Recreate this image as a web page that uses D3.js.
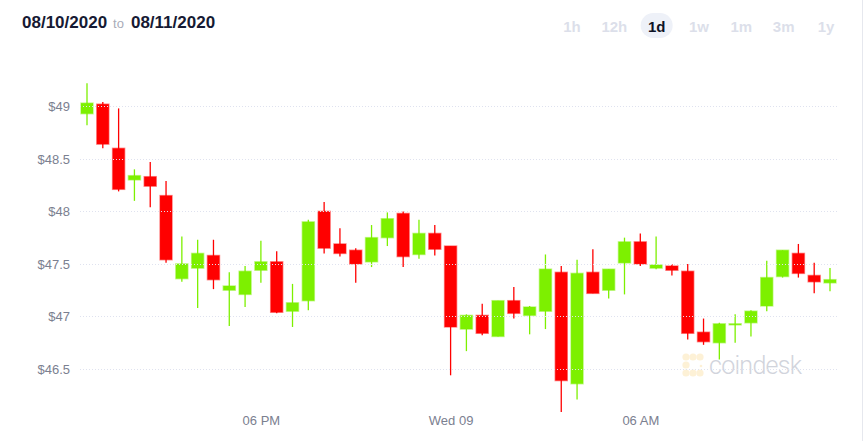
<!DOCTYPE html>
<html>
<head>
<meta charset="utf-8">
<script src="https://cdn.jsdelivr.net/npm/d3@7"></script>
<style>
  body { margin: 0; background: #fff; }
  svg { display: block; }
</style>
</head>
<body>
<div class="svg-container"></div>
<script>
//half hour candles, open / high / low / close
var opens  = [48.93, 49.02, 48.60, 48.30, 48.33, 48.15, 47.36, 47.46, 47.58, 47.25, 47.21, 47.44,
              47.52, 47.05, 47.15, 48.00, 47.69, 47.63, 47.52, 47.75, 47.98, 47.59, 47.79, 47.67,
              46.88, 47.01, 46.81, 47.15, 47.01, 47.05, 47.42, 46.36, 47.42, 47.25, 47.51, 47.71,
              47.46, 47.48, 47.43, 46.85, 46.75, 46.93, 46.94, 47.10, 47.38, 47.60, 47.39, 47.32];
var highs  = [49.22, 49.04, 48.98, 48.40, 48.47, 48.29, 47.76, 47.73, 47.73, 47.42, 47.48, 47.72,
              47.62, 47.31, 47.92, 48.09, 47.84, 47.65, 47.87, 47.99, 48.00, 47.92, 47.87, 47.67,
              47.02, 47.12, 47.15, 47.28, 47.10, 47.59, 47.48, 47.54, 47.64, 47.45, 47.75, 47.79,
              47.76, 47.50, 47.50, 46.98, 46.94, 47.02, 47.06, 47.53, 47.63, 47.69, 47.51, 47.46];
var lows   = [48.82, 48.60, 48.19, 48.10, 48.04, 47.51, 47.33, 47.08, 47.26, 46.91, 47.09, 47.32,
              47.03, 46.90, 47.06, 47.60, 47.57, 47.32, 47.47, 47.67, 47.47, 47.55, 47.58, 46.44,
              46.67, 46.82, 46.81, 46.98, 46.83, 46.88, 46.09, 46.21, 47.22, 47.17, 47.21, 47.48,
              47.45, 47.39, 46.78, 46.73, 46.59, 46.75, 46.81, 47.05, 47.37, 47.37, 47.22, 47.24];
var closes = [49.03, 48.64, 48.21, 48.34, 48.24, 47.54, 47.50, 47.60, 47.35, 47.29, 47.43, 47.52,
              47.04, 47.13, 47.90, 47.65, 47.60, 47.50, 47.75, 47.93, 47.57, 47.79, 47.64, 46.90,
              47.01, 46.84, 47.15, 47.03, 47.09, 47.45, 46.39, 47.41, 47.22, 47.45, 47.71, 47.50,
              47.49, 47.44, 46.84, 46.76, 46.93, 46.93, 47.05, 47.37, 47.63, 47.41, 47.33, 47.35];

//axis ticks
var price_ticks = [46.5, 47, 47.5, 48, 48.5, 49];
var time_ticks = [new Date(2020, 7, 8, 18, 0), new Date(2020, 7, 9, 0, 0), new Date(2020, 7, 9, 6, 0)];
var time_labels = ["06 PM", "Wed 09", "06 AM"];

//range buttons in the header
var ranges = ["1h", "12h", "1d", "1w", "1m", "3m", "1y"];
var active_range = "1d";

//first candle is 12:30, one every 30 minutes
var start = new Date(2020, 7, 8, 12, 30);
var candles = opens.map(function(o, i) {
    return {
        time: new Date(start.getTime() + i * 30 * 60000),
        open: o, high: highs[i], low: lows[i], close: closes[i]
    };
});

var width = 865, height = 441;
var up_color = "#7df000", down_color = "#ff0000";

var svg = d3.select(".svg-container")
    .append("svg")
    .attr("width", width)
    .attr("height", height);

//scales
var x = d3.scaleTime()
    .domain([candles[0].time, candles[candles.length - 1].time])
    .range([87, 830]);
var y = d3.scaleLinear().domain([46.5, 49]).range([369, 106.3]);

//header dates
var head = svg.append("text")
    .attr("x", 22)
    .attr("y", 28)
    .style("font-family", "Liberation Sans, Arial, sans-serif");
head.append("tspan").text("08/10/2020")
    .attr("font-size", 17).attr("font-weight", "bold").attr("fill", "#161a33");
head.append("tspan").text("to")
    .attr("dx", 6).attr("font-size", 13).attr("fill", "#a9acb9");
head.append("tspan").text("08/11/2020")
    .attr("dx", 7).attr("font-size", 17).attr("font-weight", "bold").attr("fill", "#161a33");

//range buttons
var range_x = d3.scalePoint().domain(ranges).range([572, 826]);
svg.append("rect")
    .attr("x", range_x(active_range) - 16)
    .attr("y", 13)
    .attr("width", 32)
    .attr("height", 25)
    .attr("rx", 12.5)
    .attr("fill", "#eef1f8");
svg.selectAll(".range")
    .data(ranges)
    .enter()
    .append("text")
    .attr("class", "range")
    .attr("x", function(d) { return range_x(d); })
    .attr("y", 32)
    .attr("text-anchor", "middle")
    .attr("font-size", 15)
    .attr("font-weight", "bold")
    .style("font-family", "Liberation Sans, Arial, sans-serif")
    .attr("fill", function(d) { return d == active_range ? "#0f1326" : "#dcdfea"; })
    .text(function(d) { return d; });

//right border
svg.append("line")
    .attr("x1", 862.5).attr("x2", 862.5)
    .attr("y1", 0).attr("y2", height)
    .attr("stroke", "#e6e8ee");

//watermark
var mark = svg.append("g").attr("opacity", 0.9);
[[686, 357], [693, 357], [700, 357], [686, 365], [686, 373], [693, 373], [700, 373]].forEach(function(p) {
    mark.append("circle").attr("cx", p[0]).attr("cy", p[1]).attr("r", 3.6).attr("fill", "#fdf0d2");
});
mark.append("circle").attr("cx", 701).attr("cy", 366).attr("r", 1.3).attr("fill", "#fdf0d2");
mark.append("text")
    .attr("x", 709)
    .attr("y", 374)
    .attr("font-size", 25)
    .attr("font-weight", 300)
    .attr("textLength", 93)
    .style("font-family", "Roboto, sans-serif")
    .attr("fill", "#cdd0d9")
    .text("coindesk");

//wicks
svg.selectAll(".wick")
    .data(candles)
    .enter()
    .append("line")
    .attr("class", "wick")
    .attr("x1", function(d) { return x(d.time); })
    .attr("x2", function(d) { return x(d.time); })
    .attr("y1", function(d) { return y(d.high); })
    .attr("y2", function(d) { return y(d.low); })
    .attr("stroke", function(d) { return d.close >= d.open ? up_color : down_color; })
    .attr("stroke-width", 1.3);

//bodies
svg.selectAll(".body")
    .data(candles)
    .enter()
    .append("rect")
    .attr("class", "body")
    .attr("x", function(d) { return x(d.time) - 6; })
    .attr("width", 12)
    .attr("y", function(d) { return y(Math.max(d.open, d.close)); })
    .attr("height", function(d) { return Math.max(1, Math.abs(y(d.open) - y(d.close))); })
    .attr("fill", function(d) { return d.close >= d.open ? up_color : down_color; })
    .attr("stroke", function(d) { return d.close >= d.open ? up_color : down_color; })
    .attr("stroke-opacity", 0.45)
    .attr("stroke-width", 1.5);

//dotted grid on top of the candles
svg.selectAll(".grid")
    .data(price_ticks)
    .enter()
    .append("line")
    .attr("class", "grid")
    .attr("x1", 80)
    .attr("x2", 838)
    .attr("y1", function(d) { return Math.round(y(d)) + 0.5; })
    .attr("y2", function(d) { return Math.round(y(d)) + 0.5; })
    .attr("stroke", "#dfe2ef")
    .attr("stroke-dasharray", "1,2");

//y axis labels
var y_axis = svg.append("g")
    .attr("transform", "translate(70,0)")
    .call(d3.axisLeft(y).tickValues(price_ticks).tickSize(0).tickPadding(0)
        .tickFormat(function(d) { return "$" + d; }));
y_axis.select(".domain").remove();
y_axis.selectAll("text")
    .attr("font-size", 13)
    .style("font-family", "Liberation Sans, Arial, sans-serif")
    .attr("fill", "#7b8090");

//x axis labels
var x_axis = svg.append("g")
    .attr("transform", "translate(0,416)")
    .call(d3.axisBottom(x).tickValues(time_ticks).tickSize(0).tickPadding(0)
        .tickFormat(function(d, i) { return time_labels[i]; }));
x_axis.select(".domain").remove();
x_axis.selectAll("text")
    .attr("font-size", 13)
    .style("font-family", "Liberation Sans, Arial, sans-serif")
    .attr("fill", "#7b8090");
</script>
</body>
</html>
